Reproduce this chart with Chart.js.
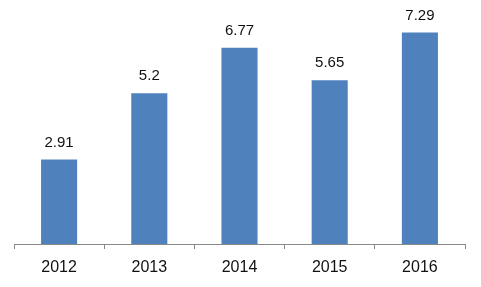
<!DOCTYPE html>
<html><head><meta charset="utf-8">
<script src="https://cdn.jsdelivr.net/npm/chart.js@4/dist/chart.umd.min.js"></script>
<style>html,body{margin:0;padding:0;background:#fff}#w{width:481px;height:287px}</style>
</head><body><div id="w"><canvas id="c"></canvas></div>
<script>
const categories = ["2012","2013","2014","2015","2016"];
const values = [2.91, 5.2, 6.77, 5.65, 7.29];
const valueLabels = ["2.91","5.2","6.77","5.65","7.29"];

const labelPlugin = {
  id: 'vlabels',
  afterDatasetsDraw(chart) {
    const ctx = chart.ctx;
    const meta = chart.getDatasetMeta(0);
    ctx.save();
    ctx.font = '15px "Liberation Sans", Arial, sans-serif';
    ctx.fillStyle = '#111';
    ctx.textAlign = 'center';
    ctx.textBaseline = 'alphabetic';
    meta.data.forEach((bar, i) => {
      ctx.fillText(valueLabels[i], bar.x, bar.y - 13);
    });
    ctx.restore();
  }
};

new Chart(document.getElementById('c'), {
  type: 'bar',
  data: { labels: categories, datasets: [{ data: values, backgroundColor: '#4F81BD', categoryPercentage: 1, barPercentage: 0.4 }] },
  options: {
    responsive: true, maintainAspectRatio: false, animation: false,
    layout: { padding: { left: 14, right: 16, top: 12, bottom: 0 } },
    plugins: { legend: { display: false }, tooltip: { enabled: false } },
    scales: {
      y: { display: false, min: 0, max: 8 },
      x: {
        grid: { offset: true, drawOnChartArea: false, drawTicks: true, tickLength: 5, color: '#888' },
        border: { color: '#888', width: 1 },
        ticks: { color: '#111', padding: 11, font: { family: '"Liberation Sans", Arial, sans-serif', size: 16, lineHeight: 1.0 } }
      }
    }
  },
  plugins: [labelPlugin]
});
</script></body></html>
